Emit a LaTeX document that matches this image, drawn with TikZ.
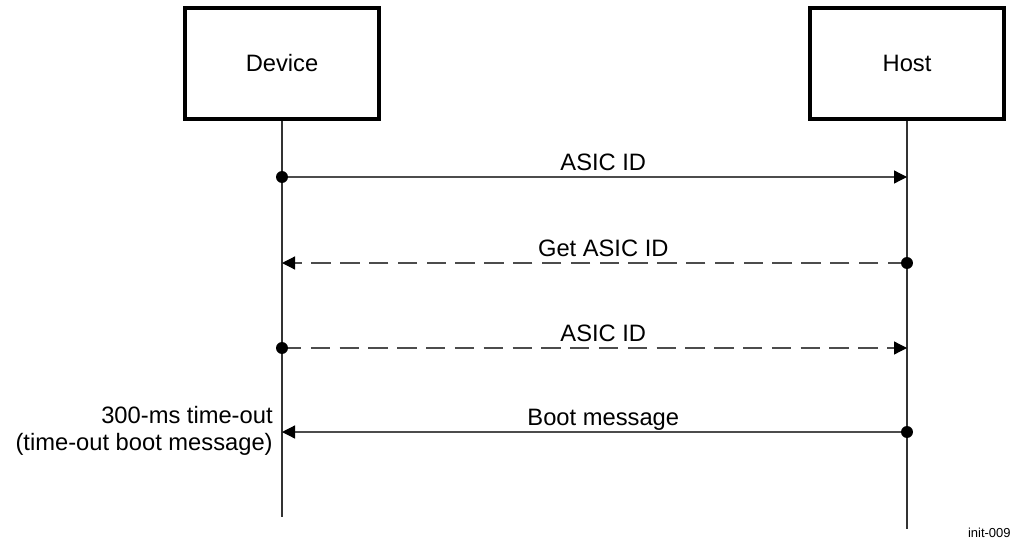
\documentclass[tikz,border=0pt]{standalone}
\usepackage{fontspec}
\setmainfont{Liberation Sans}
\usetikzlibrary{arrows.meta,positioning}

\begin{document}
\begin{tikzpicture}[x=0.02cm, y=-0.02cm,
  party/.style={draw=black, line width=2.3pt, minimum width=3.88cm, minimum height=2.22cm, inner sep=0pt, font=\fontsize{13.5}{16}\selectfont},
  life/.style={draw=black!80, line width=0.6pt},
  msg/.style={draw=black!70, line width=0.7pt, -{Triangle[length=7.4pt,width=7.4pt,color=black]}},
  dashmsg/.style={msg, dash pattern=on 11pt off 5.4pt},
  lbl/.style={font=\fontsize{13.5}{16}\selectfont, anchor=base, inner sep=0pt, yshift=3.5pt, xshift=5pt},
  dot/.style={circle, fill=black, inner sep=0pt, minimum size=6.8pt}]

  \useasboundingbox (0,0) rectangle (1013,544);

  %% Parties and lifelines
  \node[party] (dev) at (282,63.5) {Device};
  \node[party] (host) at (907,63.5) {Host};
  \coordinate (devend) at (282,517);
  \coordinate (hostend) at (907,529);
  \draw[life] (dev.south) -- (devend);
  \draw[life] (host.south) -- (hostend);

  %% Message end points
  \coordinate (d1) at (282,177);  \coordinate (h1) at (907,177);
  \coordinate (d2) at (282,263);  \coordinate (h2) at (907,263);
  \coordinate (d3) at (282,348);  \coordinate (h3) at (907,348);
  \coordinate (d4) at (282,432);  \coordinate (h4) at (907,432);

  %% Messages
  \draw[msg] (d1) -- node[lbl] (m1) {ASIC ID} (h1);
  \draw[dashmsg] (h2) -- node[lbl] (m2) {Get ASIC ID} (d2);
  \draw[dashmsg] (d3) -- node[lbl] (m3) {ASIC ID} (h3);
  \draw[msg] (h4) -- node[lbl] (m4) {Boot message} (d4);

  \node[dot] (dot1) at (d1) {};
  \node[dot] (dot2) at (h2) {};
  \node[dot] (dot3) at (d3) {};
  \node[dot] (dot4) at (h4) {};

  %% Time-out note and figure tag
  \node[font=\fontsize{13.5}{15.5}\selectfont, align=right, anchor=east, inner sep=0pt] (tout) at (273,431) {300-ms time-out\\(time-out boot message)};
  \node[font=\fontsize{7.4}{9}\selectfont, anchor=base east, inner sep=0pt] (tag) at (1011,537) {init-009};
\end{tikzpicture}
\end{document}
